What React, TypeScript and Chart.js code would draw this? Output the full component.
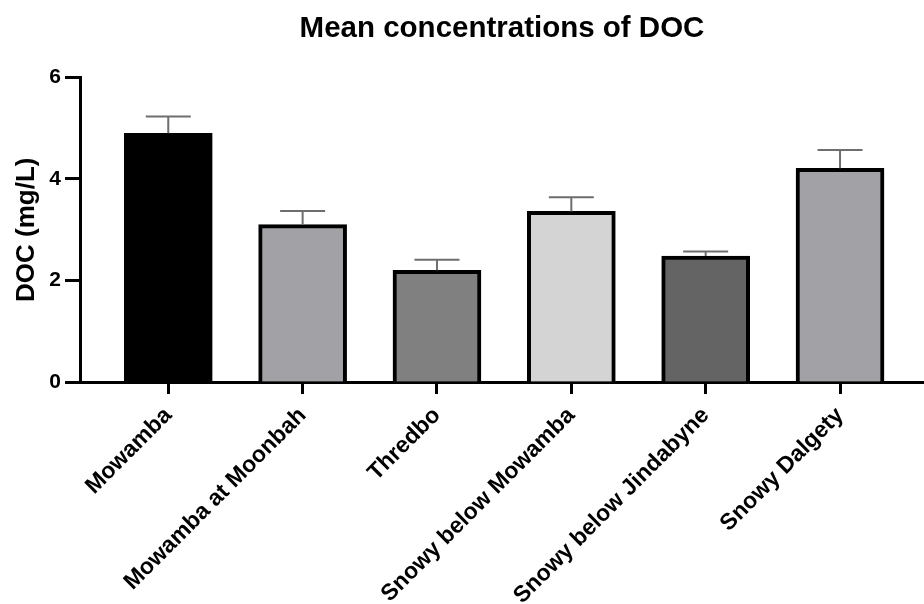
import React, { useEffect, useRef } from "react";
import { Chart, registerables } from "chart.js";

Chart.register(...registerables);

const categories = [
  "Mowamba",
  "Mowamba at Moonbah",
  "Thredbo",
  "Snowy below Mowamba",
  "Snowy below Jindabyne",
  "Snowy Dalgety",
];
const means = [4.9, 3.1, 2.2, 3.36, 2.48, 4.21];
const errors = [0.33, 0.27, 0.21, 0.28, 0.09, 0.36];
const barColors = ["#000000", "#a2a1a6", "#808080", "#d4d4d4", "#646464", "#a2a1a6"];
const yTicks = [0, 2, 4, 6];

const FONT = "'Liberation Sans', Arial, sans-serif";

const errorBarPlugin = {
  id: "errorBars",
  afterDatasetsDraw(chart: any) {
    const xs = chart.scales.x;
    const ys = chart.scales.y;
    const ctx = chart.ctx;
    ctx.save();
    ctx.strokeStyle = "#6e6e6e";
    ctx.lineWidth = 2;
    means.forEach((m, i) => {
      const x = xs.getPixelForValue(i);
      const y0 = ys.getPixelForValue(m);
      const y1 = ys.getPixelForValue(m + errors[i]);
      ctx.beginPath();
      ctx.moveTo(x, y0);
      ctx.lineTo(x, y1);
      ctx.moveTo(x - 22.5, y1);
      ctx.lineTo(x + 22.5, y1);
      ctx.stroke();
    });
    ctx.restore();
  },
};

export default function App() {
  const ref = useRef<HTMLCanvasElement>(null);
  useEffect(() => {
    document.body.style.margin = "0";
    const chart = new Chart(ref.current!, {
      type: "bar",
      data: {
        datasets: [
          {
            data: means.map((v, i) => ({ x: i, y: v })),
            backgroundColor: barColors,
            borderColor: "#000000",
            borderWidth: 4,
            barThickness: 88,
          },
        ],
      },
      options: {
        responsive: false,
        animation: false,
        layout: { padding: { left: 0, right: 0, top: 0, bottom: 0 } },
        plugins: {
          legend: { display: false },
          tooltip: { enabled: false },
          title: {
            display: true,
            fullSize: false,
            text: "Mean concentrations of DOC",
            color: "#000",
            font: { family: FONT, size: 29.5, weight: "bold" },
            padding: { top: 11, bottom: 31 },
          },
        },
        scales: {
          x: {
            type: "linear",
            offset: false,
            min: -0.657,
            max: 5.625,
            afterFit: (s: any) => {
              s.height = 222;
            },
            ticks: {
              stepSize: 1,
              includeBounds: false,
              autoSkip: false,
              maxRotation: 45,
              minRotation: 45,
              color: "#000",
              font: { family: FONT, size: 23, weight: "bold" },
              padding: 8,
              callback: (v: any) => (Number.isInteger(v) ? categories[v] : ""),
            },
            grid: {
              offset: false,
              drawOnChartArea: false,
              tickLength: 12,
              tickWidth: 3,
              tickColor: "#000",
            },
            border: { color: "#000", width: 3 },
          },
          y: {
            min: 0,
            max: 6,
            afterFit: (s: any) => {
              s.width = 80;
            },
            afterBuildTicks: (s: any) => {
              s.ticks = yTicks.map((v) => ({ value: v }));
            },
            ticks: {
              color: "#000",
              font: { family: FONT, size: 21, weight: "bold" },
              padding: 4,
            },
            grid: {
              drawOnChartArea: false,
              tickLength: 15,
              tickWidth: 3,
              tickColor: "#000",
            },
            border: { color: "#000", width: 3 },
            title: {
              display: true,
              text: "DOC (mg/L)",
              color: "#000",
              font: { family: FONT, size: 26, weight: "bold" },
              padding: { top: 11, bottom: 0 },
            },
          },
        },
      },
      plugins: [errorBarPlugin],
    });
    return () => chart.destroy();
  }, []);
  return (
    <div style={{ width: 924, height: 604, background: "#fff" }}>
      <canvas ref={ref} width={924} height={604} />
    </div>
  );
}
